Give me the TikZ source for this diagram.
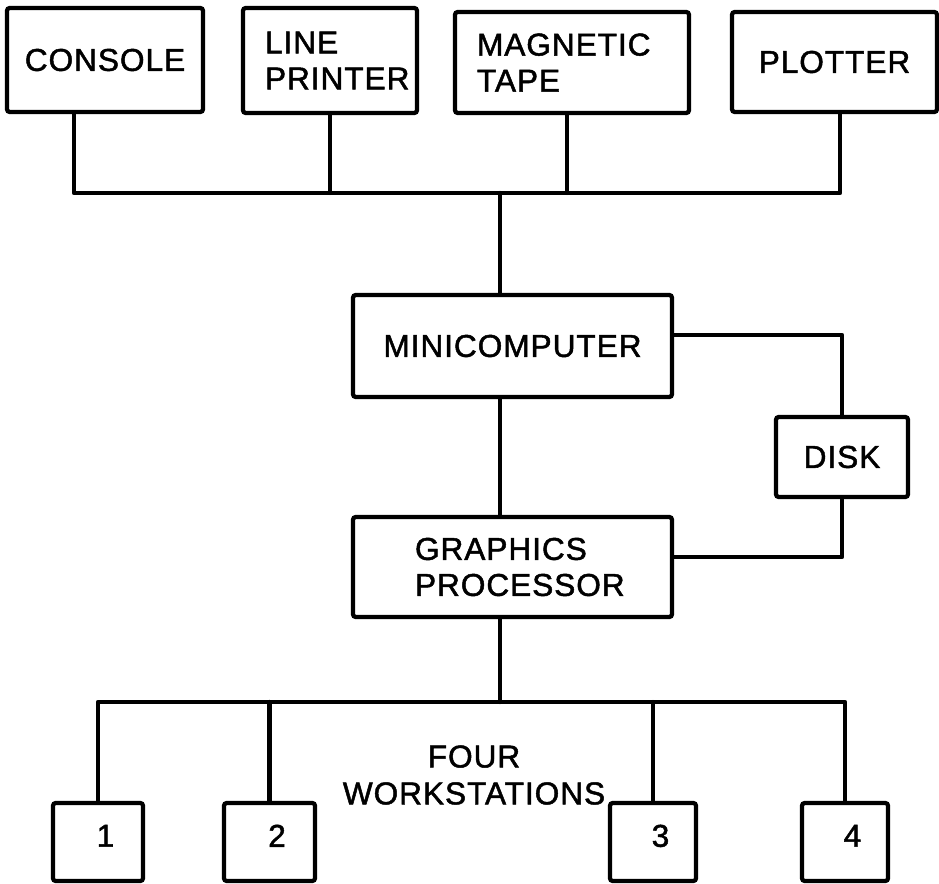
\documentclass[tikz,border=0pt]{standalone}
\usepackage{fontspec}
\newfontfamily\lettering{Liberation Sans}[LetterSpace=3,FakeBold=1.5]
\usepackage{tikz}
\usetikzlibrary{positioning}
\tikzset{
  box/.style={draw,line width=2.4pt,rounded corners=1.5pt,inner sep=2pt,align=center,font=\lettering\fontsize{18}{20.5}\selectfont},
  lbox/.style={box,align=left,text width=#1},
  wire/.style={line width=2.4pt,line cap=round,line join=round},
  caption/.style={align=center,inner sep=0pt,font=\lettering\fontsize{18}{21}\selectfont},
}
\newcommand{\ws}[3]{%
  \node[box,minimum width=#3cm,minimum height=1.56cm,text depth=0.25cm,inner xsep=0pt] (ws#1) at (#2,842) {\hspace*{0.3cm}#1};}

\begin{document}
\begin{tikzpicture}[x=0.02cm,y=-0.02cm]
\useasboundingbox (0,0) rectangle (939,884);
\node[box,minimum width=3.92cm,minimum height=2.08cm] (console) at (105,60) {CONSOLE};
\node[lbox=2.6cm,inner xsep=0.44cm,minimum height=2.1cm] (printer) at (330,60.5) {LINE\\PRINTER};
\node[lbox=3.8cm,inner xsep=0.44cm,minimum height=2.02cm] (tape) at (572,62.5) {MAGNETIC\\TAPE};
\node[box,minimum width=4.1cm,minimum height=2cm] (plotter) at (834.5,62) {PLOTTER};
\node[box,minimum width=6.38cm,minimum height=2.04cm] (mini) at (512.5,346) {MINICOMPUTER};
\node[box,minimum width=2.64cm,minimum height=1.6cm] (disk) at (842,457) {DISK};
\node[lbox=3.9cm,inner xsep=1.24cm,minimum height=2cm] (gp) at (512.5,567) {GRAPHICS\\PROCESSOR};
\ws{1}{98}{1.8}
\ws{2}{269.5}{1.82}
\ws{3}{653}{1.72}
\ws{4}{845}{1.72}
\node[caption] (wslabel) at (474,775) {FOUR\\WORKSTATIONS};
\coordinate (topbus) at (500,193);
\coordinate (lowbus) at (500,702);
\draw[wire] ([xshift=-0.62cm]console.south) |- ([xshift=0.11cm]plotter.south |- topbus) -- ([xshift=0.11cm]plotter.south);
\draw[wire] (printer.south) -- (printer.south |- topbus);
\draw[wire] ([xshift=-0.1cm]tape.south) -- ([xshift=-0.1cm]tape.south |- topbus);
\draw[wire] (topbus) -- (topbus |- mini.north);
\draw[wire] (mini.south -| topbus) -- (topbus |- gp.north);
\draw[wire] ([yshift=0.22cm]mini.east) -| (disk.north);
\draw[wire] (disk.south) |- ([yshift=0.2cm]gp.east);
\draw[wire] (gp.south -| topbus) -- (lowbus);
\draw[wire] (ws1.north) |- (ws4.north |- lowbus) -- (ws4.north);
\draw[wire] (ws2.north) -- (ws2.north |- lowbus);
\draw[wire] (ws3.north) -- (ws3.north |- lowbus);
\end{tikzpicture}
\end{document}
